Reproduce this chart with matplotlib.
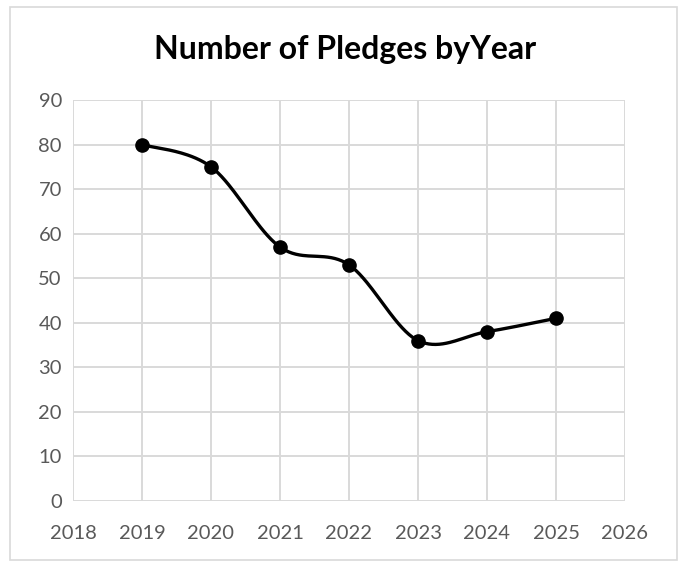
import numpy as np
import matplotlib
matplotlib.use("Agg")
import matplotlib.pyplot as plt
from matplotlib.patches import Rectangle

years = [2019, 2020, 2021, 2022, 2023, 2024, 2025]
pledges = [80, 75, 57, 53, 36, 38, 41]
title = "Number of Pledges byYear"
x_ticks = list(range(2018, 2027))
y_ticks = list(range(0, 91, 10))

W, H = 682, 562
fig = plt.figure(figsize=(W / 100, H / 100), dpi=100)
fig.patch.set_facecolor("white")
fig.add_artist(Rectangle((10 / W, 1 - 560 / H), 667 / W, 553 / H,
                         transform=fig.transFigure, fill=False,
                         edgecolor="#d9d9d9", linewidth=1.2))

ax = fig.add_axes([73 / W, 1 - 501 / H, (625 - 73) / W, (501 - 100) / H])


def excel_smooth(xs, ys, n=40):
    xs = np.asarray(xs, float)
    ys = np.asarray(ys, float)
    P = np.column_stack([xs, ys])
    out = []
    for i in range(len(P) - 1):
        p0 = P[i - 1] if i > 0 else P[i]
        p1 = P[i]
        p2 = P[i + 1]
        p3 = P[i + 2] if i + 2 < len(P) else P[i + 1]
        c1 = p1 + (p2 - p0) / 6.0
        c2 = p2 - (p3 - p1) / 6.0
        t = np.linspace(0, 1, n)[:, None]
        seg = ((1 - t) ** 3) * p1 + 3 * ((1 - t) ** 2) * t * c1 + 3 * (1 - t) * t ** 2 * c2 + t ** 3 * p2
        out.append(seg if i == 0 else seg[1:])
    s = np.vstack(out)
    return s[:, 0], s[:, 1]


sx, sy = excel_smooth(years, pledges)
ax.plot(sx, sy, color="black", linewidth=2.4, solid_capstyle="round", zorder=3)
ax.plot(years, pledges, linestyle="none", marker="o", markersize=9.5,
        color="black", zorder=4)

ax.set_xlim(2018, 2026)
ax.set_ylim(0, 90)
ax.set_xticks(x_ticks)
ax.set_yticks(y_ticks)
ax.grid(True, color="#d9d9d9", linewidth=1.4)
ax.set_axisbelow(True)
for s in ax.spines.values():
    s.set_visible(False)
ax.tick_params(length=0, labelcolor="#595959", labelsize=14.5)
ax.tick_params(axis="x", pad=17)
ax.tick_params(axis="y", pad=8)
for lab in ax.get_xticklabels() + ax.get_yticklabels():
    lab.set_fontfamily("Lato")

fig.text(345 / W, 1 - 49 / H, title, ha="center", va="center",
         fontsize=23, fontweight="bold", family="Lato", color="black")

fig.savefig("out.png", dpi=100)
